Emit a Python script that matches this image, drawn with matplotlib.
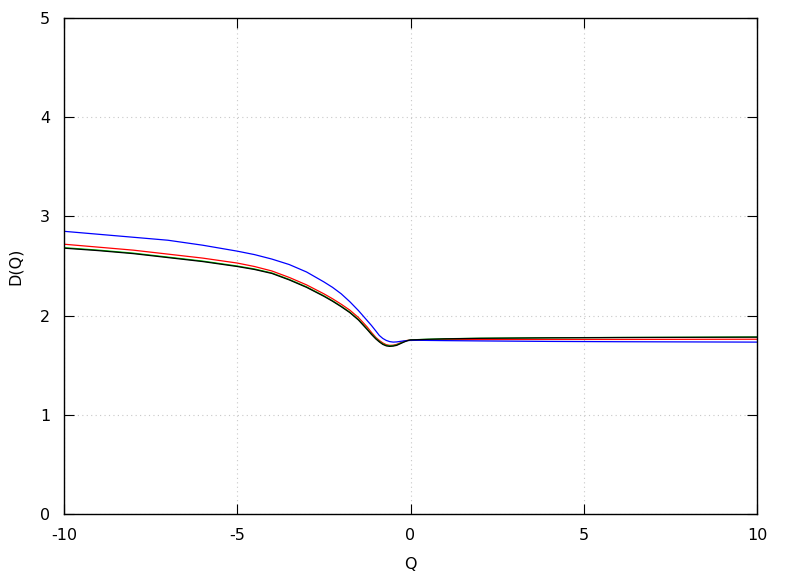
import matplotlib
matplotlib.use("Agg")
import matplotlib.pyplot as plt

plt.rcParams["axes.unicode_minus"] = False

# Q grid and D(Q)
q = [-10, -9, -8, -7, -6, -5, -4.5, -4, -3.5, -3, -2.5, -2.25, -2, -1.75, -1.5,
     -1.25, -1.125, -1, -0.9, -0.8, -0.7, -0.6, -0.5, -0.4, -0.3, -0.2, -0.1,
     0, 0.25, 0.5, 1, 2, 4, 6, 8, 10]

d_red = [2.72, 2.69, 2.66, 2.62, 2.58, 2.53, 2.495, 2.45, 2.385, 2.31, 2.22, 2.17,
         2.115, 2.055, 1.98, 1.885, 1.83, 1.78, 1.75, 1.725, 1.707, 1.70, 1.702,
         1.71, 1.725, 1.74, 1.75, 1.755, 1.756, 1.757, 1.758, 1.759, 1.76, 1.76,
         1.761, 1.762]
d_green = [2.685, 2.66, 2.63, 2.59, 2.55, 2.50, 2.47, 2.43, 2.365, 2.29, 2.20,
           2.15, 2.095, 2.035, 1.96, 1.865, 1.815, 1.77, 1.74, 1.715, 1.70,
           1.695, 1.697, 1.705, 1.72, 1.735, 1.748, 1.755, 1.759, 1.762, 1.767,
           1.772, 1.777, 1.78, 1.782, 1.785]
d_blue = [2.85, 2.82, 2.79, 2.76, 2.71, 2.65, 2.615, 2.57, 2.515, 2.44, 2.34,
          2.285, 2.22, 2.14, 2.05, 1.95, 1.90, 1.845, 1.80, 1.77, 1.75, 1.738,
          1.733, 1.735, 1.74, 1.745, 1.748, 1.75, 1.751, 1.75, 1.748, 1.745,
          1.74, 1.737, 1.735, 1.733]
d_black = [2.68, 2.655, 2.625, 2.585, 2.545, 2.495, 2.465, 2.425, 2.36, 2.285,
           2.195, 2.145, 2.09, 2.03, 1.955, 1.86, 1.81, 1.765, 1.735, 1.71, 1.695,
           1.69, 1.693, 1.70, 1.716, 1.732, 1.746, 1.755, 1.758, 1.761, 1.766,
           1.771, 1.776, 1.779, 1.781, 1.783]

xticks = [-10, -5, 0, 5, 10]
yticks = [0, 1, 2, 3, 4, 5]

fig = plt.figure(figsize=(7.88, 5.76), dpi=100)
ax = fig.add_axes([0.0812, 0.1076, 0.8795, 0.8611])

for d, c in [(d_red, "red"), (d_green, "#00c000"), (d_blue, "blue"), (d_black, "black")]:
    ax.plot(q, d, color=c, lw=0.9)

ax.set_xlim(-10, 10)
ax.set_ylim(0, 5)
ax.set_xticks(xticks)
ax.set_yticks(yticks)
ax.grid(True, color="#c8c8c8", ls=(0, (1, 3)), lw=0.8)
ax.tick_params(direction="in", length=7, top=True, right=True, labelsize=11.5, pad=10)
for s in ax.spines.values():
    s.set_linewidth(1.0)
ax.set_xlabel("Q", fontsize=11.5, labelpad=10)
ax.set_ylabel("D(Q)", fontsize=11.5, labelpad=12)

fig.savefig("out.png", dpi=100)
